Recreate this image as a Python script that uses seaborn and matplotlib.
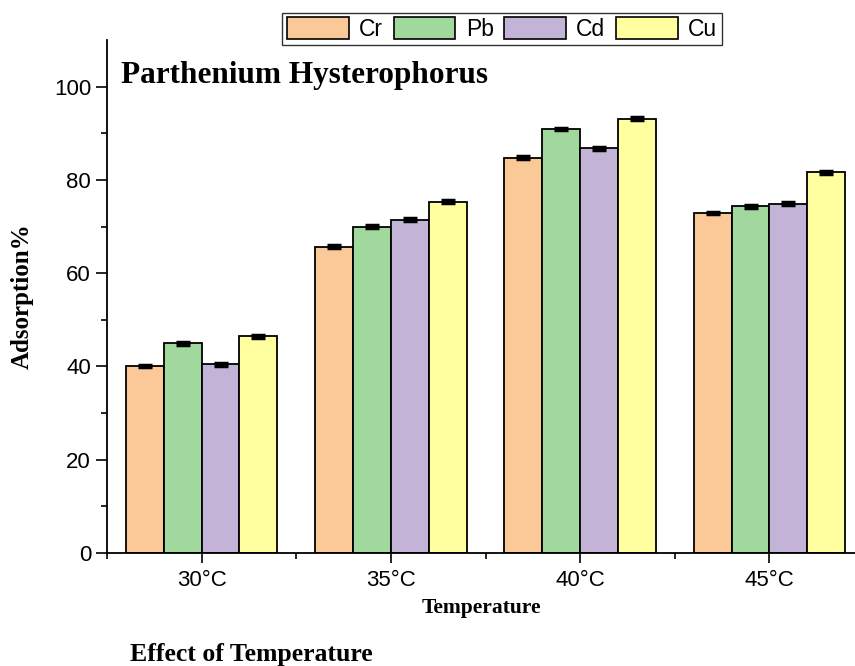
import numpy as np
import pandas as pd
import matplotlib
matplotlib.use("Agg")
import matplotlib.pyplot as plt
import seaborn as sns
from matplotlib.patches import Patch
from matplotlib.ticker import FixedLocator

temperatures = ["30°C", "35°C", "40°C", "45°C"]
metals = ["Cr", "Pb", "Cd", "Cu"]
cr = [40.1, 65.7, 84.8, 72.9]
pb = [45.0, 70.0, 90.9, 74.3]
cd = [40.5, 71.5, 86.8, 74.9]
cu = [46.5, 75.3, 93.1, 81.6]
err = [0.3, 0.3, 0.3, 0.3]
colors = ["#FBC898", "#A0D89E", "#C3B3D7", "#FFFF9F"]

series = {"Cr": cr, "Pb": pb, "Cd": cd, "Cu": cu}
rows = []
for m in metals:
    for t, v in zip(temperatures, series[m]):
        rows.append({"Temperature": t, "Metal": m, "Adsorption": v})
df = pd.DataFrame(rows)

sns.set_style("ticks")
plt.rcParams["font.family"] = ["Liberation Sans", "DejaVu Sans"]
plt.rcParams["text.color"] = "black"
plt.rcParams["xtick.color"] = "black"
plt.rcParams["ytick.color"] = "black"
plt.rcParams["axes.labelcolor"] = "black"

fig = plt.figure(figsize=(8.55, 6.66), dpi=100)
ax = fig.add_axes([107/855, 1-553/666, 1-107/855, (553-40)/666])

sns.barplot(data=df, x="Temperature", y="Adsorption", hue="Metal",
            order=temperatures, hue_order=metals, palette=colors,
            errorbar=None, edgecolor="black", linewidth=1.3, width=0.8,
            saturation=1, ax=ax, legend=False)

for patch in ax.patches:
    h = patch.get_height()
    if h <= 0:
        continue
    xc = patch.get_x() + patch.get_width()/2
    ax.errorbar(xc, h, yerr=err[0], fmt="none", ecolor="black",
                elinewidth=1.5, capsize=5, capthick=2.5, zorder=5)

ax.set_ylim(0, 110)
ax.set_xlim(-0.5, 3.452)
ax.yaxis.set_major_locator(FixedLocator([0, 20, 40, 60, 80, 100]))
ax.yaxis.set_minor_locator(FixedLocator([10, 30, 50, 70, 90]))
ax.xaxis.set_minor_locator(FixedLocator([-0.5, 0.5, 1.5, 2.5, 3.5]))
ax.tick_params(axis="y", which="major", length=8, width=1.2, labelsize=16,
               direction="out", colors="black")
ax.tick_params(axis="y", which="minor", length=4, width=1.2, direction="out", colors="black")
ax.tick_params(axis="x", which="major", length=7, width=1.2, labelsize=16,
               direction="out", colors="black", pad=5)
ax.tick_params(axis="x", which="minor", length=4, width=1.2, direction="out", colors="black")
for s in ["top", "right"]:
    ax.spines[s].set_visible(False)
for s in ["left", "bottom"]:
    ax.spines[s].set_linewidth(1.3)
    ax.spines[s].set_color("black")

serif = ["Liberation Serif", "DejaVu Serif"]
ax.set_xlabel("Temperature", fontsize=15.5, fontweight="bold", family=serif)
ax.xaxis.set_label_coords((481-107)/748, -(608-553)/513)
ax.xaxis.label.set_va("center")
ax.set_ylabel("Adsorption%", fontsize=18, fontweight="bold", family=serif)
ax.yaxis.set_label_coords((34-107)/748, 0.5)
fig.text(121/855, 1-75/666, "Parthenium Hysterophorus",
         fontsize=22.5, fontweight="bold", family=serif, ha="left", va="center")
fig.text(130/855, 1-655/666, "Effect of Temperature", fontsize=18.5,
         fontweight="bold", family=serif, ha="left", va="center")

handles = [Patch(facecolor=c, edgecolor="black", linewidth=1.2, label=m)
           for c, m in zip(colors, metals)]
leg = fig.legend(handles=handles, ncol=4, loc="center",
                 bbox_to_anchor=(502/855, 1-29/666), fontsize=16.5,
                 frameon=True, fancybox=False, edgecolor="black",
                 handlelength=2.7, handleheight=1.1, handletextpad=0.45,
                 columnspacing=0.45, borderpad=0.2, borderaxespad=0)
leg.get_frame().set_linewidth(1.0)

fig.savefig("out.png", dpi=100)
